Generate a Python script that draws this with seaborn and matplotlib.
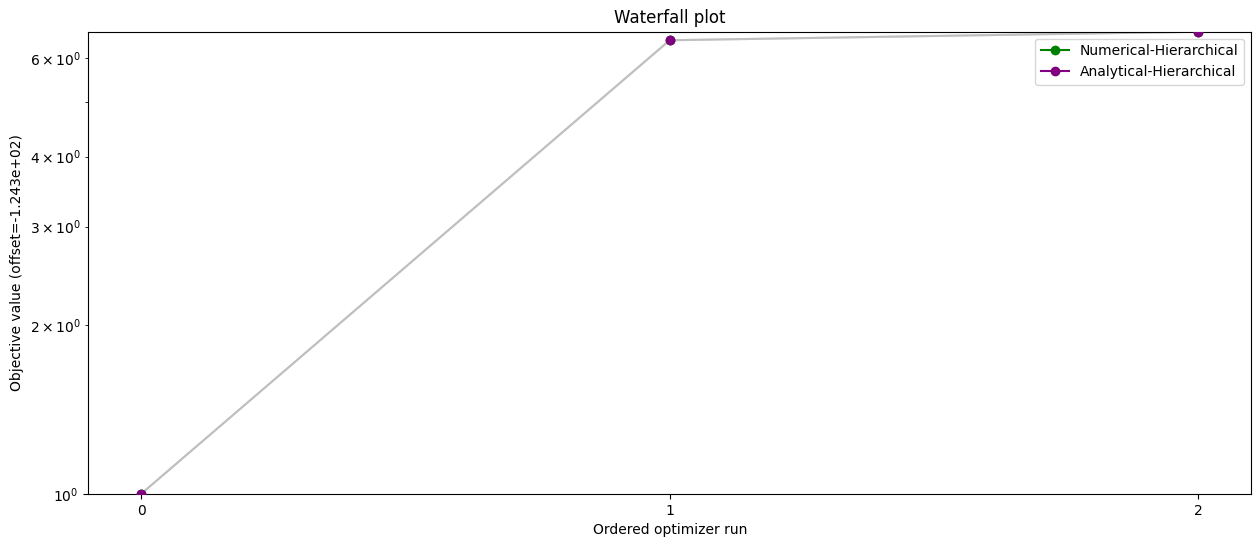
import matplotlib
matplotlib.use("Agg")
import matplotlib.pyplot as plt
from matplotlib.lines import Line2D
import seaborn as sns
import pandas as pd

runs = [0, 1, 2]
numerical_vals = [1.0, 6.45, 6.68]
analytical_vals = [1.0, 6.45, 6.68]
series_names = ["Numerical-Hierarchical", "Analytical-Hierarchical"]
series_colors = ["green", "purple"]

fig, ax = plt.subplots(figsize=(12.6, 5.47), dpi=100)
fig.subplots_adjust(left=0.07, right=0.993, top=0.942, bottom=0.097)

for i, (name, vals, col) in enumerate(zip(series_names, [numerical_vals, analytical_vals], series_colors)):
    df = pd.DataFrame({"run": runs, "val": vals})
    sns.lineplot(data=df, x="run", y="val", ax=ax, color=(0.7, 0.7, 0.7), alpha=0.6,
                 linewidth=1.5, zorder=1, legend=False)
    sns.scatterplot(data=df, x="run", y="val", ax=ax, color=col, s=50, edgecolor=col,
                    linewidth=0, zorder=3, legend=False)

ax.set_yscale("log")
ax.set_ylim(1.0, 6.68)
ax.set_xlim(-0.1, 2.1)
ax.set_xticks(runs)
ax.set_xlabel("Ordered optimizer run")
ax.set_ylabel("Objective value (offset=-1.243e+02)")
ax.set_title("Waterfall plot")

handles = [Line2D([0], [0], color=c, marker="o", markersize=6) for c in series_colors]
ax.legend(handles, series_names, loc="upper right")

fig.savefig("out.png", dpi=100)
